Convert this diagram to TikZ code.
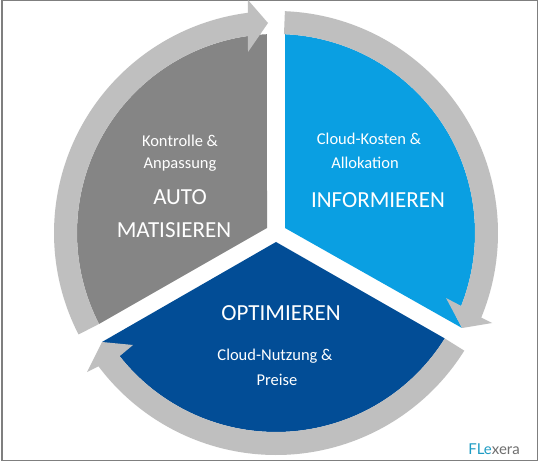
\documentclass[tikz,border=0pt]{standalone}
\usepackage{fontspec}
\setmainfont{Carlito}
\newfontfamily\logofont{Lato}
\usetikzlibrary{calc}
\definecolor{ringgray}{HTML}{BFBFBF}
\definecolor{darkgray}{HTML}{858585}
\definecolor{skyblue}{HTML}{0A9FE2}
\definecolor{navyblue}{HTML}{024D96}
\definecolor{framegray}{HTML}{7F7F7F}
\definecolor{logoblue}{HTML}{1E9CC4}
\definecolor{logogray}{HTML}{6E6E6E}
\tikzset{
  small label/.style={text=white,font=\fontsize{16.5}{18}\selectfont,inner sep=0pt,anchor=center},
  big label/.style={text=white,font=\fontsize{23}{25}\selectfont,inner sep=0pt,anchor=center},
  ring/.style={fill=ringgray,draw=none}
}
\begin{document}
\begin{tikzpicture}[x=1pt,y=1pt]
\useasboundingbox (0,0) rectangle (540,463);
\fill[white] (0,0) rectangle (540,463);
\draw[framegray,line width=1.8pt] (2,463-0.5) -- (537.5,463-0.5) -- (537.5,463-460.5) -- (2,463-460.5) -- cycle;
\coordinate (c) at (276,463-233);
% segments
\fill[darkgray] (267,463-228) -- ($(c)+(207.2:199pt)$) arc[start angle=207.2,end angle=92.6,radius=199pt] -- cycle;
\fill[skyblue] (285,463-228) -- ($(c)+(87.4:199pt)$) arc[start angle=87.4,end angle=-25,radius=199pt] -- (462,463-328) -- cycle;
\fill[navyblue] (276,463-242) -- ($(c)+(-32:199pt)$) arc[start angle=-32,end angle=-141.8,radius=199pt] -- (102,463-342) -- cycle;
% ring arrows
\fill[ring] ($(c)+(207.2:222pt)$) arc[start angle=207.2,end angle=97.3,radius=222pt]
  -- (248,463-0) -- (268,463-23) -- (248,463-52) -- ($(c)+(98.1:199pt)$)
  arc[start angle=98.1,end angle=207.2,radius=199pt] -- cycle;
\fill[ring] ($(c)+(87.7:222pt)$) arc[start angle=87.7,end angle=-22.4,radius=222pt]
  -- (492,463-323) -- (462,463-328) -- (446,463-298) -- ($(c)+(-21.5:199pt)$)
  arc[start angle=-21.5,end angle=87.7,radius=199pt] -- cycle;
\fill[ring] ($(c)+(-32:222pt)$) arc[start angle=-32,end angle=-143.1,radius=222pt]
  -- (87,463-372) -- (102,463-342) -- (133,463-345) -- (121,463-355)
  -- ($(c)+(-141.8:199pt)$) arc[start angle=-141.8,end angle=-32,radius=199pt] -- cycle;
% labels
\node[small label] (k1) at (180,463-141) {Kontrolle \&};
\node[small label] (k2) at (180,463-165) {Anpassung};
\node[big label] (a1) at (180,463-197) {AUTO};
\node[big label] (a2) at (174,463-230) {MATISIEREN};
\node[small label] (i1) at (369,463-139) {Cloud-Kosten \&};
\node[small label] (i2) at (365,463-163) {Allokation};
\node[big label] (i3) at (378,463-200) {INFORMIEREN};
\node[big label] (o1) at (281,463-313) {OPTIMIEREN};
\node[small label] (o2) at (275,463-356) {Cloud-Nutzung \&};
\node[small label] (o3) at (277,463-380) {Preise};
\node[inner sep=0pt,font=\logofont\fontsize{15}{16}\selectfont] (logo) at (494,463-449) {\textcolor{logoblue}{FLe}\textcolor{logogray}{xera}};
\end{tikzpicture}
\end{document}
